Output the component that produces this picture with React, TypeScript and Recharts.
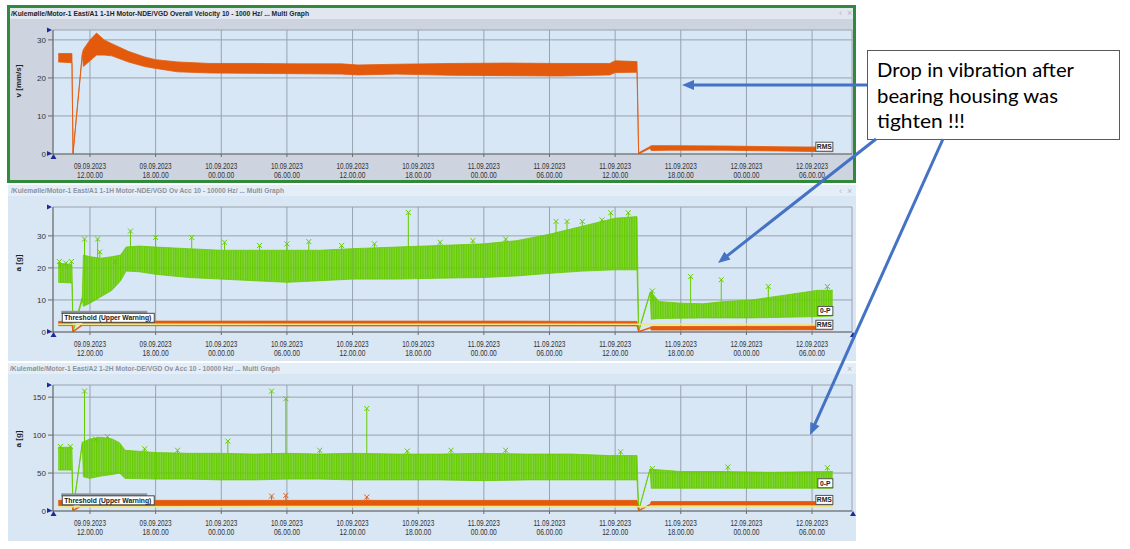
import React from "react"
import {
  ComposedChart,
  Area,
  Line,
  Scatter,
  XAxis,
  YAxis,
  CartesianGrid,
  ErrorBar,
  ReferenceDot,
  ReferenceArea,
} from "recharts"

// time axis: hours since 09.09.2023 00:00
const timeTicks = [12, 18, 24, 30, 36, 42, 48, 54, 60, 66, 72, 78]
const tickDates = [
  "09.09.2023", "09.09.2023", "10.09.2023", "10.09.2023", "10.09.2023", "10.09.2023",
  "11.09.2023", "11.09.2023", "11.09.2023", "11.09.2023", "12.09.2023", "12.09.2023",
]
const tickTimes = [
  "12.00.00", "18.00.00", "00.00.00", "06.00.00", "12.00.00", "18.00.00",
  "00.00.00", "06.00.00", "12.00.00", "18.00.00", "00.00.00", "06.00.00",
]

// chart 1 - overall velocity RMS [mm/s], envelope of the dense trace
const velHours = [9.1, 10.35, 10.45, 11.3, 11.4, 12.0, 12.6, 13.3, 14.0, 15.5, 17.0, 18.0, 20.0, 23.0, 27.0, 31.0, 35.0, 36.5, 40.0, 45.0, 50.0, 55.0, 59.5, 60.0, 62.0, 62.15, 63.2, 63.3, 65.0, 70.0, 75.0, 79.9]
const velLow = [24.2, 24.0, 0, 26.0, 23.0, 24.5, 26.0, 26.0, 25.8, 24.2, 23.0, 22.5, 21.6, 21.3, 21.2, 21.1, 21.0, 20.8, 21.0, 20.7, 20.6, 20.5, 20.8, 21.4, 21.5, 0, 1.5, 0.9, 1.0, 1.0, 0.8, 0.6]
const velHigh = [26.4, 26.4, 0.3, 26.5, 27.5, 30.0, 31.8, 30.0, 29.0, 27.0, 25.5, 24.8, 24.2, 23.8, 23.8, 23.7, 23.7, 23.4, 23.6, 23.8, 23.9, 23.8, 23.8, 24.5, 24.3, 0.3, 2.0, 2.2, 2.2, 2.1, 1.9, 1.8]

// chart 2 - A1 motor NDE acceleration, 0-P [g]
const accAHours = [9.1, 10.35, 10.45, 11.3, 11.4, 12.0, 13.0, 14.0, 14.8, 15.3, 16.5, 18, 21, 24, 27, 30, 33, 36, 40, 44, 48, 51, 54, 57, 60, 62.0, 62.15, 63.2, 63.3, 64, 66, 68, 70, 72.5, 75.5, 78.5, 79.9]
const accALow = [15.5, 15.3, 0, 10, 8, 9, 11, 13, 16, 19, 18.8, 18.0, 17.0, 16.5, 16, 15.5, 16, 16.5, 16.5, 16.8, 17, 17.5, 18.3, 19, 19.4, 19.4, 0, 12, 4.0, 4.2, 4.3, 4.4, 4.4, 4.4, 4.6, 4.8, 5]
const accAHigh = [21.5, 21.0, 0.5, 11, 24, 23.5, 23, 23.5, 24, 26.5, 26.8, 26.5, 26, 25.5, 25.5, 25.5, 25.5, 26, 26.5, 27, 27.5, 28.5, 30.5, 33, 35.5, 36, 0.5, 12.5, 12.5, 9.5, 9, 8.8, 9.5, 10, 11.5, 13, 13]
const accASpikeHours = [9.2, 9.8, 10.3, 11.5, 12.7, 12.9, 14.3, 15.7, 18.0, 21.3, 24.3, 27.5, 30, 32, 35, 38, 41.1, 44, 47, 50, 54.6, 55.6, 57, 58.8, 59.6, 61.2, 63.4, 66.9, 69.7, 74, 79.4]
const accASpikeTop = [22, 21.5, 22, 29, 29, 25, 22, 31.5, 29.5, 29.5, 28, 27, 27.5, 28.2, 27, 27.5, 37.3, 28, 28.5, 29, 34.5, 34.5, 34.5, 35, 37.2, 37.2, 12.8, 17.3, 16.3, 14.2, 14.2]
const accASpikeBase = [20, 20, 20, 23, 23, 23, 21, 26.5, 26.5, 26, 25.5, 25.5, 25.5, 25.5, 25.5, 26, 26.5, 27, 27.5, 28, 30.5, 31.5, 33, 34, 35, 35.8, 9.5, 9, 9.5, 10.5, 13]
const accARmsHours = [9.1, 10.35, 10.45, 11.3, 11.4, 30, 50, 62.0, 62.15, 63.2, 63.3, 79.9]
const accARmsLow = [2.0, 2.0, 0, 2.0, 2.0, 1.9, 1.9, 1.9, 0, 1.2, 0.6, 0.7]
const accARmsHigh = [3.3, 3.3, 0.2, 2.4, 3.4, 3.4, 3.4, 3.3, 0.2, 1.4, 1.7, 1.8]
const accAThresholdHours = [9.1, 79.9]
const accAThreshold = [2.4, 2.4]

// chart 3 - A2 motor DE acceleration, 0-P [g]
const accBHours = [9.1, 10.35, 10.45, 11.3, 11.4, 12.0, 13.0, 14.0, 14.7, 15.2, 18, 21, 24, 27, 30, 33, 36, 40, 44, 48, 52, 56, 59.5, 62.0, 62.15, 63.2, 63.3, 66, 70, 74, 79.9]
const accBLow = [54, 54, 0, 88, 45, 43, 46, 48, 50, 43, 42, 42, 41, 41, 42, 42, 41, 41, 41, 40, 41, 41, 41, 41, 0, 55, 30, 30, 30, 30, 30]
const accBHigh = [84, 84, 1, 91, 91, 95, 97, 95, 90, 80, 77, 76, 76, 75, 76, 75, 76, 75, 75, 76, 75, 75, 73, 73, 1, 56, 55, 52, 52, 51, 52]
const accBSpikeHours = [9.3, 10.2, 11.5, 12.5, 13.6, 17, 20, 24.6, 28.6, 29.9, 33, 37.3, 41, 45, 50, 60.5, 63.4, 70.3, 79.4]
const accBSpikeTop = [85, 85, 158, 95, 98, 82, 80, 92, 158, 148, 80, 135, 79, 80, 80, 78, 56, 58, 57]
const accBSpikeBase = [82, 82, 91, 93, 95, 77, 76, 76, 76, 76, 75, 76, 75, 75, 76, 73, 55, 52, 52]
const accBRmsHours = [9.1, 10.35, 10.45, 11.3, 11.4, 30, 50, 62.0, 62.15, 63.2, 63.3, 79.9]
const accBRmsLow = [7, 7, 0, 7, 7, 7.5, 7.5, 7.5, 0, 8, 8, 8]
const accBRmsHigh = [14, 14, 1, 9, 14, 14, 14, 14, 1, 9, 12.5, 12.5]
const accBRmsSpikeHours = [28.6, 29.9, 37.3]
const accBRmsSpikeTop = [19.7, 20.5, 18.4]
const accBRmsSpikeBase = [14, 14, 14]
const accBThresholdHours = [9.1, 79.9]
const accBThreshold = [5.5, 5.5]

const orange = "#e35a0c"
const green = "#66cc00"
const thresholdColor = "#efe68a"
const plotBg = "#d8e7f5"
const gridColor = "#98a3ae"
const tickFont = "'Liberation Sans Narrow', 'Liberation Sans', Arial, sans-serif"

type Row = { h: number; band?: number[]; v?: number; err?: number[] }

const bandRows = (hours: number[], low: number[], high: number[]): Row[] =>
  hours.map((h, i) => ({ h, band: [low[i], high[i]] }))
const spikeRows = (hours: number[], top: number[], base: number[]): Row[] =>
  hours.map((h, i) => ({ h, v: top[i], err: [top[i] - base[i], 0] }))
const lineRows = (hours: number[], vals: number[]): Row[] => hours.map((h, i) => ({ h, v: vals[i] }))

const TimeTick = ({ x, y, payload }: any) => {
  const i = timeTicks.indexOf(payload.value)
  return (
    <text x={x} y={y} textAnchor="middle" fontSize={8.5} fill="#333" fontFamily={tickFont}>
      <tspan x={x} dy={10} textLength={32} lengthAdjust="spacingAndGlyphs">{tickDates[i]}</tspan>
      <tspan x={x} dy={9} textLength={26} lengthAdjust="spacingAndGlyphs">{tickTimes[i]}</tspan>
    </text>
  )
}

const XMark = ({ cx, cy, color }: any) => (
  <path
    d={`M${cx - 2.5},${cy - 2.5}L${cx + 2.5},${cy + 2.5}M${cx - 2.5},${cy + 2.5}L${cx + 2.5},${cy - 2.5}`}
    stroke={color}
    strokeWidth={1}
  />
)

const Tag = ({ cx, cy, text, w }: any) => (
  <g>
    <rect x={cx - w} y={cy - 9.5} width={w} height={9} fill="#fff" stroke="#555" strokeWidth={1} />
    <text x={cx - w / 2} y={cy - 2.6} textAnchor="middle" fontSize={6.8} fontWeight="bold" fill="#222" fontFamily={tickFont}>
      {text}
    </text>
  </g>
)

const ThresholdTag = ({ cx, cy }: any) => (
  <g>
    <rect x={cx + 3} y={cy - 13.5} width={86} height={3} fill="#8e949c" />
    <rect x={cx + 4} y={cy - 11} width={92} height={9} fill="#fff" stroke="#444" strokeWidth={1} />
    <text x={cx + 6} y={cy - 4} fontSize={7.4} fontWeight="bold" fill="#222" fontFamily={tickFont} textLength={87} lengthAdjust="spacingAndGlyphs">
      Threshold (Upper Warning)
    </text>
  </g>
)

type ChartProps = {
  id: string
  top: number
  marginTop: number
  axisHeight: number
  yMax: number
  yTicks: number[]
  green?: Row[]
  greenSpikes?: Row[]
  orange: Row[]
  orangeSpikes?: Row[]
  threshold?: Row[]
}

function TrendChart(p: ChartProps) {
  const lastGreen = p.green ? p.green[p.green.length - 1] : undefined
  const lastOrange = p.orange[p.orange.length - 1]
  return (
    <div style={{ position: "absolute", left: 0, top: p.top }}>
      <ComposedChart width={860} height={185} margin={{ top: p.marginTop, right: 8, bottom: 0, left: 0 }}>
        <defs>
          {/* dense trace look: thin vertical strokes */}
          <pattern id={`stripes-${p.id}`} width={2.4} height={6} patternUnits="userSpaceOnUse">
            <rect width={2.4} height={6} fill={green} fillOpacity={0.72} />
            <rect width={1.3} height={6} fill={green} />
          </pattern>
        </defs>
        <CartesianGrid fill={plotBg} fillOpacity={1} stroke={gridColor} strokeWidth={1} />
        <XAxis
          type="number"
          dataKey="h"
          domain={[8.62, 81.65]}
          ticks={timeTicks}
          allowDataOverflow
          height={p.axisHeight}
          tick={<TimeTick />}
          tickSize={3}
          tickMargin={2}
          stroke="#6a6a6a"
        />
        <YAxis
          type="number"
          domain={[0, p.yMax]}
          ticks={p.yTicks}
          allowDataOverflow
          width={53}
          tickSize={5}
          tickMargin={2}
          stroke="#6a6a6a"
          tick={{ fontSize: 8, fill: "#333", fontFamily: tickFont }}
        />
        {p.threshold && (
          <Line data={p.threshold} dataKey="v" stroke={thresholdColor} strokeWidth={1.5} dot={false} isAnimationActive={false} />
        )}
        {p.green && (
          <Area data={p.green} dataKey="band" type="linear" stroke={green} strokeWidth={0.8} fill={`url(#stripes-${p.id})`} fillOpacity={1} isAnimationActive={false} />
        )}
        {p.greenSpikes && (
          <Scatter data={p.greenSpikes} dataKey="v" shape={(s: any) => <XMark {...s} color={green} />} isAnimationActive={false}>
            <ErrorBar dataKey="err" direction="y" width={0} stroke={green} strokeWidth={1} />
          </Scatter>
        )}
        <Area data={p.orange} dataKey="band" type="linear" stroke={orange} strokeWidth={0.8} fill={orange} fillOpacity={1} isAnimationActive={false} />
        {p.orangeSpikes && (
          <Scatter data={p.orangeSpikes} dataKey="v" shape={(s: any) => <XMark {...s} color={orange} />} isAnimationActive={false}>
            <ErrorBar dataKey="err" direction="y" width={0} stroke={orange} strokeWidth={1} />
          </Scatter>
        )}
        <ReferenceArea fill="none" stroke="#6a6a6a" strokeWidth={1} ifOverflow="visible" />
        {p.threshold && (
          <ReferenceDot x={p.threshold[0].h} y={p.threshold[0].v} r={0} shape={(s: any) => <ThresholdTag {...s} />} />
        )}
        {lastGreen && lastGreen.band && (
          <ReferenceDot x={lastGreen.h} y={lastGreen.band[0]} r={0} shape={(s: any) => <Tag {...s} text="0-P" w={15} />} />
        )}
        {lastOrange.band && (
          <ReferenceDot x={lastOrange.h} y={lastOrange.band[0]} r={0} shape={(s: any) => <Tag {...s} text="RMS" w={17} />} />
        )}
      </ComposedChart>
    </div>
  )
}

function Arrow({ x1, y1, x2, y2 }: { x1: number; y1: number; x2: number; y2: number }) {
  const dx = x2 - x1
  const dy = y2 - y1
  const len = Math.hypot(dx, dy)
  const ux = dx / len
  const uy = dy / len
  const hl = 12
  const hw = 5
  const bx = x2 - ux * hl
  const by = y2 - uy * hl
  return (
    <g>
      <line x1={x1} y1={y1} x2={bx + ux * 2} y2={by + uy * 2} stroke="#4472c4" strokeWidth={3} />
      <polygon points={`${x2},${y2} ${bx - uy * hw},${by + ux * hw} ${bx + uy * hw},${by - ux * hw}`} fill="#4472c4" />
    </g>
  )
}

function Corners({ top, bottom, right }: { top: number; bottom: number; right?: boolean }) {
  const c = "#1b2b9b"
  return (
    <g fill={c}>
      <polygon points={`47,${top - 2.5} 52,${top} 47,${top + 2.5}`} />
      <polygon points={`47,${bottom - 3} 52,${bottom - 0.5} 47,${bottom + 2}`} />
      <polygon points={`50.5,${bottom + 5} 53.5,${bottom} 56.5,${bottom + 5}`} />
      {right && <polygon points={`850,${bottom + 5} 853,${bottom} 856,${bottom + 5}`} />}
    </g>
  )
}

export default function App() {
  const velData = bandRows(velHours, velLow, velHigh)
  const accAData = bandRows(accAHours, accALow, accAHigh)
  const accARms = bandRows(accARmsHours, accARmsLow, accARmsHigh)
  const accBData = bandRows(accBHours, accBLow, accBHigh)
  const accBRms = bandRows(accBRmsHours, accBRmsLow, accBRmsHigh)

  const titleFont = "'Liberation Sans', Arial, sans-serif"

  return (
    <div style={{ position: "absolute", left: 0, top: 0, width: 1130, height: 549, background: "#fff", overflow: "hidden" }}>
      {/* panel frames */}
      <div style={{ position: "absolute", left: 7, top: 5, width: 849, height: 178, boxSizing: "border-box", border: "3px solid #2f8a3c", background: "#cdd4e0" }}>
        <div style={{ height: 11, background: "#e2e6ee" }} />
      </div>
      <div style={{ position: "absolute", left: 8, top: 185, width: 848, height: 176, background: "#d9e6f3" }}>
        <div style={{ height: 11, background: "#e4eef8" }} />
      </div>
      <div style={{ position: "absolute", left: 8, top: 363, width: 848, height: 178, background: "#d9e6f3" }}>
        <div style={{ height: 11, background: "#e4eef8" }} />
      </div>

      <TrendChart id="vel" top={0} marginTop={30} axisHeight={31} yMax={32.6} yTicks={[0, 10, 20, 30]} orange={velData} />
      <TrendChart
        id="a1"
        top={180}
        marginTop={27}
        axisHeight={33}
        yMax={39}
        yTicks={[0, 10, 20, 30]}
        green={accAData}
        greenSpikes={spikeRows(accASpikeHours, accASpikeTop, accASpikeBase)}
        orange={accARms}
        threshold={lineRows(accAThresholdHours, accAThreshold)}
      />
      <TrendChart
        id="a2"
        top={360}
        marginTop={25}
        axisHeight={34}
        yMax={166}
        yTicks={[0, 50, 100, 150]}
        green={accBData}
        greenSpikes={spikeRows(accBSpikeHours, accBSpikeTop, accBSpikeBase)}
        orange={accBRms}
        orangeSpikes={spikeRows(accBRmsSpikeHours, accBRmsSpikeTop, accBRmsSpikeBase)}
        threshold={lineRows(accBThresholdHours, accBThreshold)}
      />

      <svg width={1130} height={549} style={{ position: "absolute", left: 0, top: 0, pointerEvents: "none" }}>
        {/* panel titles */}
        <text x={11} y={16} fontSize={7.6} fontWeight="bold" fill="#1f1f1f" fontFamily={titleFont} textLength={298} lengthAdjust="spacingAndGlyphs">
          /Kulemølle/Motor-1 East/A1 1-1H Motor-NDE/VGD Overall Velocity 10 - 1000 Hz/ ... Multi Graph
        </text>
        <text x={11} y={193} fontSize={7.4} fontWeight="bold" fill="#8c939c" fontFamily={titleFont} textLength={273} lengthAdjust="spacingAndGlyphs">
          /Kulemølle/Motor-1 East/A1 1-1H Motor-NDE/VGD Ov Acc 10 - 10000 Hz/ ... Multi Graph
        </text>
        <text x={10} y={371} fontSize={7.4} fontWeight="bold" fill="#8c939c" fontFamily={titleFont} textLength={270} lengthAdjust="spacingAndGlyphs">
          /Kulemølle/Motor-1 East/A2 1-2H Motor-DE/VGD Ov Acc 10 - 10000 Hz/ ... Multi Graph
        </text>
        <g fill="#b3bac4" fontSize={9} fontFamily={titleFont}>
          <text x={839} y={16}>‹</text>
          <text x={847} y={16}>×</text>
          <text x={839} y={194}>‹</text>
          <text x={847} y={194}>×</text>
          <text x={847} y={372}>×</text>
        </g>

        {/* y axis titles */}
        <g fontSize={8} fontWeight="bold" fill="#222" fontFamily={titleFont} textAnchor="middle">
          <text transform="translate(21,81) rotate(-90)">v [mm/s]</text>
          <text transform="translate(21,263) rotate(-90)">a [g]</text>
          <text transform="translate(21,439) rotate(-90)">a [g]</text>
        </g>

        <Corners top={30} bottom={154} />
        <Corners top={207} bottom={332} right />
        <Corners top={385} bottom={511} right />

        {/* callout */}
        <rect x={867.5} y={50.5} width={252} height={89} fill="#fff" stroke="#5a5a5a" strokeWidth={1} />
        <g fontSize={20} fill="#000" fontFamily="Lato, 'Open Sans', sans-serif">
          <text x={877} y={77} textLength={197} lengthAdjust="spacingAndGlyphs">Drop in vibration after</text>
          <text x={877} y={103} textLength={181} lengthAdjust="spacingAndGlyphs">bearing housing was</text>
          <text x={877} y={128} textLength={88} lengthAdjust="spacingAndGlyphs">tighten !!!</text>
        </g>
        <Arrow x1={867} y1={85} x2={682} y2={85} />
        <Arrow x1={876} y1={139} x2={718} y2={263} />
        <Arrow x1={943} y1={139} x2={810} y2={435} />
      </svg>
    </div>
  )
}
